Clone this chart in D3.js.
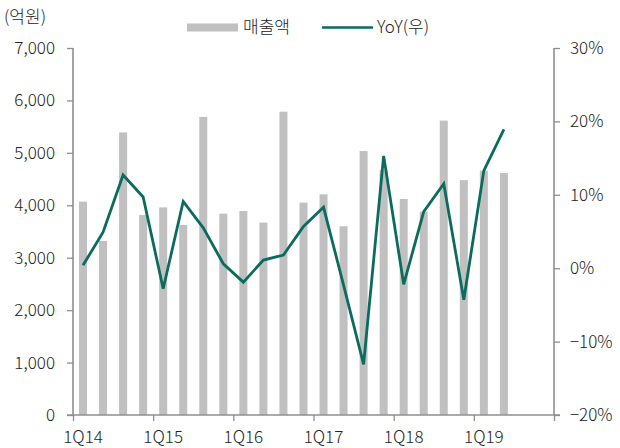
<!DOCTYPE html>
<html>
<head>
<meta charset="utf-8">
<script src="https://cdn.jsdelivr.net/npm/d3@7"></script>
<style>
  body { margin: 0; background: #fff; }
  svg { display: block; font-family: "Noto Sans CJK KR", "Noto Sans", sans-serif; font-weight: 300; }
</style>
</head>
<body>
<svg id="chart" width="620" height="448"></svg>
<script>
// Quarters 1Q14 .. 2Q19, plus two empty slots to fill the axis out to 4Q19
var quarters = ['1Q14','2Q14','3Q14','4Q14','1Q15','2Q15','3Q15','4Q15',
                '1Q16','2Q16','3Q16','4Q16','1Q17','2Q17','3Q17','4Q17',
                '1Q18','2Q18','3Q18','4Q18','1Q19','2Q19','3Q19','4Q19'];
// 매출액 (억원)
var sales = [4070, 3320, 5390, 3815, 3960, 3625, 5685, 3840,
             3890, 3670, 5785, 4050, 4210, 3600, 5035, 4670,
             4120, 3880, 5615, 4480, 4660, 4615];
// YoY (%)
var yoy = [0.4, 4.9, 12.7, 9.7, -2.8, 9.1, 5.5, 0.6,
           -1.9, 1.1, 1.8, 5.7, 8.3, -2.3, -13.1, 15.3,
           -2.2, 7.7, 11.5, -4.3, 13.3, 18.9];
var leftTicks = [0, 1000, 2000, 3000, 4000, 5000, 6000, 7000];
var rightTicks = [-20, -10, 0, 10, 20, 30];
var yearLabels = ['1Q14','1Q15','1Q16','1Q17','1Q18','1Q19'];

var margin = { top: 48, right: 66, bottom: 33, left: 73 };
var width = 620 - margin.left - margin.right;
var height = 448 - margin.top - margin.bottom;
var axisColor = '#8f8f8f';
var barColor = '#c0c0c0';
var lineColor = '#0a6b5e';
var textColor = '#222';

var svg = d3.select('#chart');
var g = svg.append('g')
    .attr('transform', 'translate(' + margin.left + ',' + margin.top + ')');

// Scales
var x = d3.scaleBand().domain(quarters).range([0, width]).paddingInner(0.6).paddingOuter(0.3);
var yL = d3.scaleLinear().domain([0, 7000]).range([height, 0]);
var yR = d3.scaleLinear().domain([-20, 30]).range([height, 0]);

// Bars
g.selectAll('rect.bar')
    .data(sales)
    .enter().append('rect')
    .attr('class', 'bar')
    .attr('x', (d, i) => x(quarters[i]))
    .attr('width', x.bandwidth())
    .attr('y', d => yL(d))
    .attr('height', d => height - yL(d))
    .attr('fill', barColor);

// Line
var line = d3.line()
    .x((d, i) => x(quarters[i]) + x.bandwidth() / 2)
    .y(d => yR(d));

g.append('path')
    .datum(yoy)
    .attr('d', line)
    .attr('fill', 'none')
    .attr('stroke', lineColor)
    .attr('stroke-width', 2.8)
    .attr('stroke-linejoin', 'miter');

// Left axis
var leftAxis = g.append('g')
    .call(d3.axisLeft(yL).tickValues(leftTicks).tickSize(6).tickPadding(12)
        .tickFormat(d3.format(',')));

// Right axis
var rightAxis = g.append('g')
    .attr('transform', 'translate(' + width + ',0)')
    .call(d3.axisRight(yR).tickValues(rightTicks).tickSize(6).tickPadding(10)
        .tickFormat(d => (d < 0 ? '\u2212' + Math.abs(d) : d) + '%'));

// X axis: ticks at year boundaries, labels under each first quarter
var xYear = d3.scaleLinear().domain([0, 6]).range([0, width]);
var bottomAxis = g.append('g')
    .attr('transform', 'translate(0,' + height + ')')
    .call(d3.axisBottom(xYear).ticks(6).tickSize(6).tickFormat(''));

g.append('g')
    .selectAll('text')
    .data(yearLabels)
    .enter().append('text')
    .attr('x', d => x(d) + x.bandwidth() / 2)
    .attr('y', height + 28)
    .attr('text-anchor', 'middle')
    .attr('font-size', 17)
    .attr('fill', textColor)
    .text(d => d);

[leftAxis, rightAxis, bottomAxis].forEach(function (a) {
    a.select('.domain').attr('stroke', axisColor).attr('stroke-width', 1.6);
    a.selectAll('.tick line').attr('stroke', axisColor).attr('stroke-width', 1.3);
    a.selectAll('.tick text').attr('font-size', 17).attr('fill', textColor)
        .attr('font-family', null);
});
leftAxis.select('.domain').attr('d', 'M0,' + height + 'V0');
rightAxis.select('.domain').attr('d', 'M0,' + height + 'V0');
bottomAxis.select('.domain').attr('d', 'M-6,0H' + (width + 6));
leftAxis.attr('font-family', null);
rightAxis.attr('font-family', null);
bottomAxis.attr('font-family', null);

// Unit label
svg.append('text')
    .attr('x', 4)
    .attr('y', 23)
    .attr('font-size', 17)
    .attr('fill', textColor)
    .text('(억원)');

// Legend
var legend = svg.append('g');
legend.append('rect')
    .attr('x', 187).attr('y', 23.5)
    .attr('width', 51).attr('height', 8)
    .attr('fill', barColor);
legend.append('text')
    .attr('x', 243).attr('y', 33)
    .attr('font-size', 17).attr('fill', textColor)
    .text('매출액');
legend.append('line')
    .attr('x1', 322).attr('x2', 373)
    .attr('y1', 27.5).attr('y2', 27.5)
    .attr('stroke', lineColor).attr('stroke-width', 2.5);
legend.append('text')
    .attr('x', 377).attr('y', 33)
    .attr('font-size', 17).attr('fill', textColor)
    .text('YoY(우)');
</script>
</body>
</html>
